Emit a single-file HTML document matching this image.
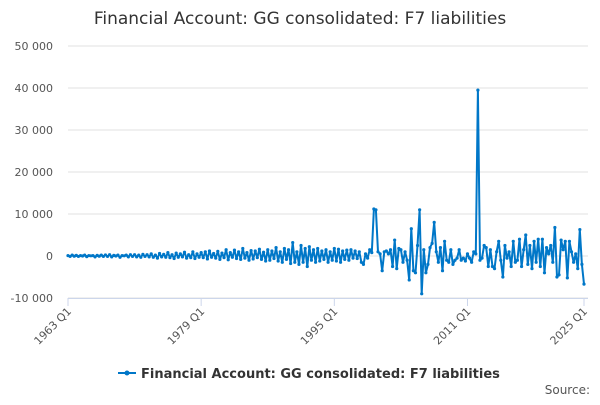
<!DOCTYPE html>
<html><head><meta charset="utf-8"><style>
body{margin:0;background:#fff;font-family:"Liberation Sans","DejaVu Sans",sans-serif}
svg text{font-family:"DejaVu Sans","Liberation Sans",sans-serif}
</style></head><body>
<svg id="c" width="600" height="400">
<text x="300" y="24" text-anchor="middle" font-size="17" fill="#333">Financial Account: GG consolidated: F7 liabilities</text>
<g id="grid"></g><g id="xaxis"></g><g id="series"></g>
<g>
<line x1="118" y1="373" x2="136" y2="373" stroke="#0077c8" stroke-width="2"/><circle cx="127" cy="373" r="2.5" fill="#0077c8"/>
<text x="141" y="378" font-size="13" font-weight="bold" fill="#333">Financial Account: GG consolidated: F7 liabilities</text></g>
<text x="590" y="394" text-anchor="end" font-size="12" fill="#555">Source:</text>
</svg>
<script>
const yTicks=[50000,40000,30000,20000,10000,0,-10000];
const yTickLabels=["50 000","40 000","30 000","20 000","10 000","0","-10 000"];
const xTickLabels=["1963 Q1","1979 Q1","1995 Q1","2011 Q1","2025 Q1"];
const xTickIndex=[0,64,128,192,248];
const values=[
100,-100,200,-50, 150,-100,100,0, 200,-150,100,50, 100,-200,150,-50, 200,-100,250,-100,
300,-200,150,0, 200,-300,100,50, 200,-200,300,-100, 300,-200,200,-300, 400,-100,300,-200,
500,-300,200,-500, 600,-200,400,-300, 800,-400,300,-600, 700,-300,500,-200, 900,-500,300,-400,
1000,-600,500,-300, 800,-400,1000,-700, 1200,-300,600,-500, 1100,-800,700,-400, 1500,-900,800,-300,
1400,-600,1000,-800, 1800,-500,800,-1000, 1300,-700,1200,-400, 1600,-800,900,-1200, 1500,-1000,1200,-600,
2000,-1200,1000,-1500, 1800,-800,1500,-1800, 3200,-1500,1000,-2000, 2500,-1500,1800,-2500, 2200,-1000,1500,-1500,
1800,-1200,1200,-800, 1500,-1500,1000,-1000, 1800,-1200,1600,-1500, 1200,-800,1400,-1000, 1500,-500,1200,-600,
1000,-1500,-2000,500, -500,1500,800,11200, 11000,1000,500,-3500, 1000,1200,500,1500, -2500,3800,-3000,1800,
1500,-1500,1000,-1000, -5700,6500,-3500,-4000, 2500,11000,-9000,1500, -4000,-2000,2000,3000, 8000,1000,-1500,2000,
-3500,3500,-1000,-1500, 1500,-2000,-1000,-500, 1500,-1000,-500,-1200, 500,-500,-1500,1000, 500,39500,-1000,-500,
2500,2000,-2500,1500, -2500,-3000,1000,3500, -1000,-5000,2500,-500, 1000,-2500,3500,-1500, -1000,4000,-2500,1500,
5000,-2000,2500,-3000, 3500,-1500,4000,-2500, 4000,-4000,2000,500, 2500,-1500,6800,-5000, -4500,3800,1500,3500,
-5200,3500,1000,-1500, 500,-3000,6300,-2000, -6700];
const NS="http://www.w3.org/2000/svg";
const x0=68,x1=584,yTop=46,yBot=298,vMax=50000,vMin=-10000;
const xs=i=>x0+(x1-x0)*i/(values.length-1);
const ys=v=>yBot-(v-vMin)/(vMax-vMin)*(yBot-yTop);
function mk(tag,attrs,parent){const e=document.createElementNS(NS,tag);for(const k in attrs)e.setAttribute(k,attrs[k]);parent.appendChild(e);return e;}
const grid=document.getElementById('grid');
yTicks.forEach((v,i)=>{
 const l=mk('line',{x1:x0,x2:x1+4,y1:ys(v),y2:ys(v),stroke:'#e0e0e0','stroke-width':1},grid);
 
 
 const t=mk('text',{x:53,y:ys(v)+4,'text-anchor':'end','font-size':11,fill:'#555'},grid);
 t.textContent=yTickLabels[i];
 
 
});
const xa=document.getElementById('xaxis');
const ax=mk('line',{x1:x0,x2:x1+4,y1:yBot+0.5,y2:yBot+0.5,stroke:'#ccd6eb'},xa);


xTickIndex.forEach((idx,i)=>{
 const x=xs(idx);
 const tk=mk('line',{x1:x,x2:x,y1:yBot,y2:yBot+8,stroke:'#ccd6eb'},xa);
 
 
 const t=mk('text',{x:x+4,y:yBot+14,'text-anchor':'end','font-size':11,fill:'#555',transform:`rotate(-45 ${x+4} ${yBot+14})`},xa);
 t.textContent=xTickLabels[i];
 
 
});
const sg=document.getElementById('series');
const p=mk('path',{d:values.map((v,i)=>(i?'L':'M')+xs(i).toFixed(1)+' '+ys(v).toFixed(1)).join(''),fill:'none',stroke:'#0077c8','stroke-width':2,'stroke-linejoin':'round'},sg);


values.forEach((v,i)=>{
 const c=mk('circle',{cx:xs(i),cy:ys(v),r:1.6,fill:'#0077c8'},sg);
 
 
});
</script>
</body></html>
